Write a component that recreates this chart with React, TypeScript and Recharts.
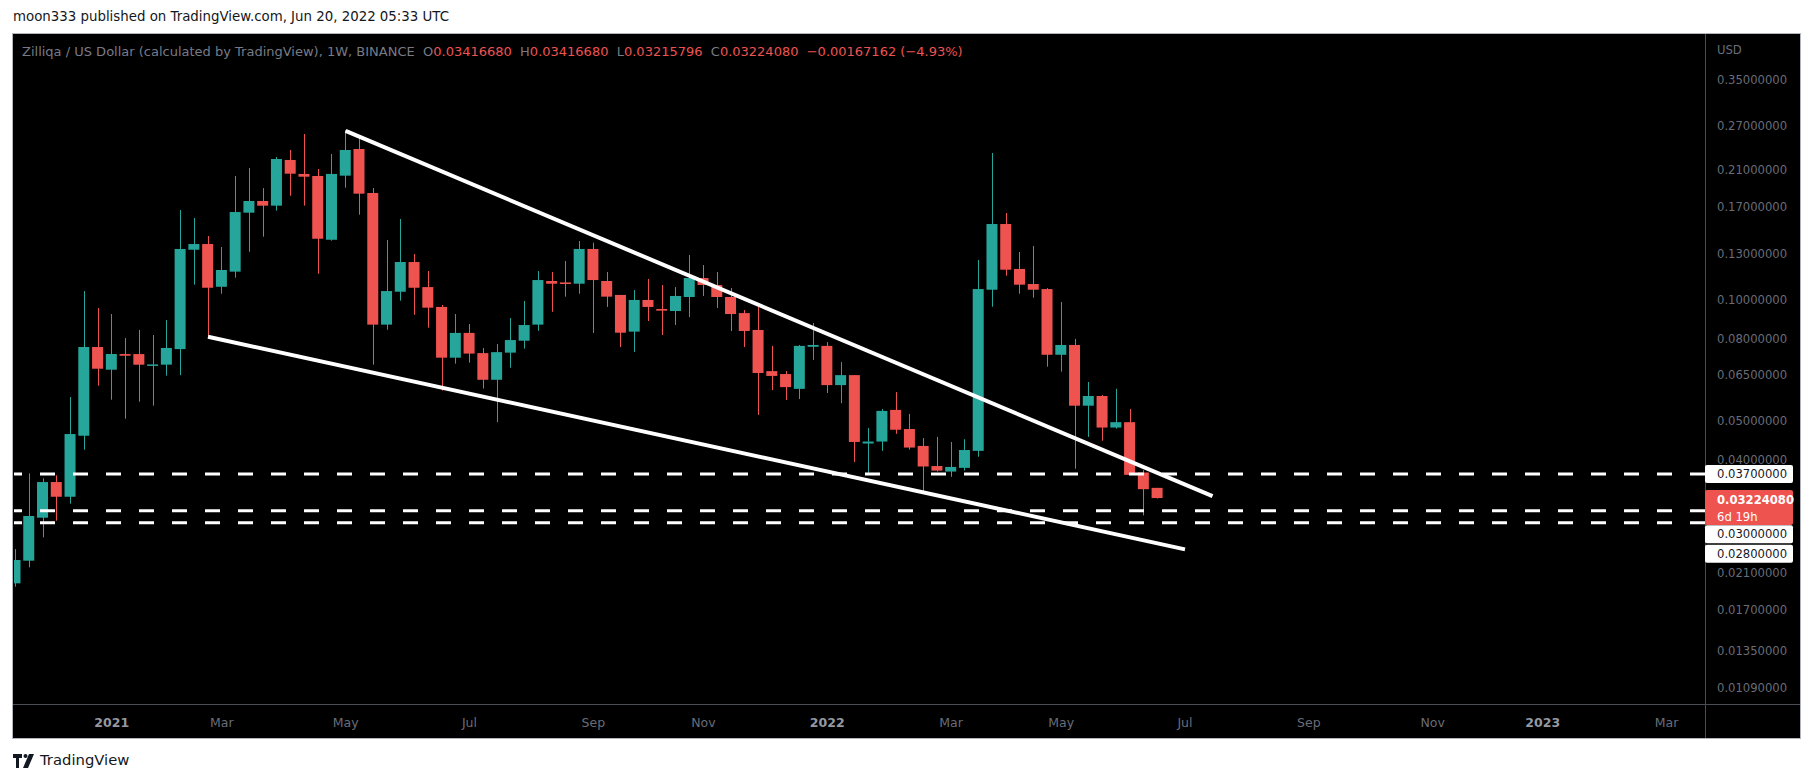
import { Bar, ComposedChart, Line, ReferenceLine, XAxis, YAxis } from "recharts"

const TEAL = "#26a69a"
const RED = "#ef5350"
const AXIS_TEXT = "#6a6d78"
const GRID_LINE = "#4a4d55"
const FONT = "DejaVu Sans, sans-serif"

// weekly candles, bar 0 = week of 2020-11-16, last bar = week of 2022-06-20
const opens = [
  0.01982, 0.02255, 0.02882, 0.03532, 0.03248, 0.046, 0.0763, 0.06704, 0.0733, 0.0733,
  0.0686, 0.069, 0.0754, 0.1329, 0.1373, 0.1076, 0.1173, 0.1642, 0.1755, 0.1709,
  0.2218, 0.2048, 0.2024, 0.1407, 0.2028, 0.2361, 0.1837, 0.0867, 0.1046, 0.1239,
  0.1074, 0.0959, 0.0718, 0.0827, 0.0737, 0.0633, 0.0739, 0.0791, 0.0867, 0.1112,
  0.1103, 0.1095, 0.1335, 0.1112, 0.1027, 0.0833, 0.0998, 0.0948, 0.0937, 0.1015,
  0.1131, 0.1087, 0.1015, 0.0926, 0.0841, 0.0665, 0.0654, 0.0601, 0.0764, 0.0768,
  0.0614, 0.065, 0.044, 0.0445, 0.0533, 0.0478, 0.0434, 0.0387, 0.0375, 0.0383,
  0.0422, 0.1058, 0.1539, 0.1191, 0.1093, 0.1062, 0.073, 0.0772, 0.0546, 0.0577,
  0.0482, 0.0497, 0.0373, 0.0341668,
]
const highs = [
  0.0241, 0.03712, 0.03608, 0.0367, 0.05737, 0.105, 0.0953, 0.0921, 0.0803, 0.0841,
  0.0817, 0.089, 0.1667, 0.1593, 0.1437, 0.135, 0.2024, 0.2119, 0.1889, 0.2256,
  0.2348, 0.2572, 0.2107, 0.2295, 0.2632, 0.2543, 0.189, 0.1405, 0.1584, 0.1297,
  0.1177, 0.097, 0.0921, 0.087, 0.0759, 0.0776, 0.09, 0.0992, 0.1177, 0.1171,
  0.1246, 0.1397, 0.1384, 0.1171, 0.1027, 0.1056, 0.1125, 0.1087, 0.1074, 0.129,
  0.1218, 0.1171, 0.1068, 0.0942, 0.0981, 0.0768, 0.0665, 0.0772, 0.0875, 0.0785,
  0.07, 0.065, 0.0481, 0.0536, 0.059, 0.0521, 0.0454, 0.0457, 0.0444, 0.0451,
  0.1254, 0.2308, 0.1639, 0.1312, 0.1358, 0.1068, 0.0986, 0.0799, 0.0625, 0.058,
  0.0601, 0.0536, 0.0378, 0.0341668,
]
const lows = [
  0.01944, 0.02171, 0.02577, 0.02833, 0.03121, 0.04247, 0.0612, 0.0565, 0.0507, 0.05585,
  0.0546, 0.0648, 0.065, 0.1089, 0.0807, 0.1034, 0.1133, 0.1314, 0.1432, 0.1661,
  0.1809, 0.1709, 0.1159, 0.1399, 0.1894, 0.1623, 0.069, 0.0842, 0.0994, 0.0917,
  0.0852, 0.0595, 0.0694, 0.0698, 0.0602, 0.0497, 0.0678, 0.0756, 0.0837, 0.0933,
  0.1017, 0.1034, 0.0827, 0.0959, 0.0763, 0.0742, 0.0885, 0.0817, 0.0865, 0.0905,
  0.1021, 0.0953, 0.0836, 0.0763, 0.0518, 0.0597, 0.0564, 0.0567, 0.0709, 0.0587,
  0.0554, 0.0396, 0.0372, 0.0422, 0.0465, 0.0425, 0.0331, 0.0375, 0.0364, 0.0377,
  0.0408, 0.096, 0.1146, 0.1034, 0.1011, 0.0682, 0.0663, 0.0381, 0.0457, 0.0447,
  0.0479, 0.0368, 0.0292, 0.03215796,
]
const closes = [
  0.02264, 0.0291, 0.03532, 0.03248, 0.04645, 0.07631, 0.06742, 0.07332, 0.0726, 0.06898,
  0.0691, 0.0759, 0.1335, 0.1373, 0.107, 0.1184, 0.1648, 0.1755, 0.1709, 0.223,
  0.2051, 0.2016, 0.1415, 0.2048, 0.2348, 0.183, 0.0867, 0.105, 0.1239, 0.107,
  0.0955, 0.0718, 0.0827, 0.0735, 0.0633, 0.0741, 0.0794, 0.0865, 0.1118, 0.1095,
  0.1093, 0.1335, 0.1118, 0.1017, 0.0828, 0.0998, 0.0959, 0.0939, 0.1021, 0.1131,
  0.1087, 0.1015, 0.0921, 0.0836, 0.0658, 0.0647, 0.0607, 0.0768, 0.0772, 0.0614,
  0.065, 0.0444, 0.0445, 0.053, 0.0476, 0.043, 0.0386, 0.0377, 0.0385, 0.0424,
  0.1062, 0.1539, 0.1186, 0.1089, 0.1058, 0.073, 0.0772, 0.0546, 0.0577, 0.0482,
  0.0497, 0.0368, 0.03391, 0.0322408,
]

// first weekly bar of each month
const monthTicks = [7, 15, 24, 33, 42, 50, 59, 68, 76, 85, 94, 103, 111, 120]
const monthLabels = ["2021", "Mar", "May", "Jul", "Sep", "Nov", "2022", "Mar", "May", "Jul", "Sep", "Nov", "2023", "Mar"]
const priceTicks = [0.35, 0.27, 0.21, 0.17, 0.13, 0.1, 0.08, 0.065, 0.05, 0.04, 0.021, 0.017, 0.0135, 0.0109]

// drawn trend lines (week index, price)
const upperWeeks = [24, 87]
const upperPrices = [0.2617, 0.0326]
const lowerWeeks = [14, 85]
const lowerPrices = [0.0809, 0.02406]

const levels = [0.037, 0.03, 0.028]
const lastPrice = 0.0322408

const candles = opens.map((open, i) => ({
  week: i,
  open,
  high: highs[i],
  low: lows[i],
  close: closes[i],
  range: [lows[i], highs[i]],
}))
const upperTrend = upperWeeks.map((week, i) => ({ week, price: upperPrices[i] }))
const lowerTrend = lowerWeeks.map((week, i) => ({ week, price: lowerPrices[i] }))

function Candle(props: any) {
  const { x, y, width, height, payload } = props
  if (!payload) return null
  const top = Math.min(y, y + height)
  const h = Math.abs(height)
  const { open, close, high, low } = payload
  const color = close >= open ? TEAL : RED
  const span = Math.log(high) - Math.log(low)
  const toY = (v: number) => (span === 0 ? top : top + ((Math.log(high) - Math.log(v)) / span) * h)
  const bodyTop = toY(Math.max(open, close))
  const bodyBottom = toY(Math.min(open, close))
  const cx = Math.round(x + width / 2) + 0.5
  return (
    <g>
      <line x1={cx} x2={cx} y1={top} y2={top + h} stroke={color} strokeWidth={1} />
      <rect x={x} y={bodyTop} width={width} height={Math.max(bodyBottom - bodyTop, 1.5)} fill={color} />
    </g>
  )
}

function PriceTick({ x, y, payload }: any) {
  return (
    <text x={x} y={y} dy="0.36em" fill={AXIS_TEXT} fontSize={11.6} fontFamily={FONT} textAnchor="start">
      {Number(payload.value).toFixed(8)}
    </text>
  )
}

function TimeTick({ x, y, payload }: any) {
  const label = monthLabels[monthTicks.indexOf(payload.value)]
  const isYear = /^\d{4}$/.test(label)
  return (
    <text
      x={x}
      y={y + 23}
      fill={isYear ? "#9598a1" : AXIS_TEXT}
      fontWeight={isYear ? "bold" : "normal"}
      fontSize={12.5}
      fontFamily={FONT}
      textAnchor="middle"
    >
      {label}
    </text>
  )
}

function LevelBox({ viewBox, text, shift = 0 }: any) {
  if (!viewBox) return null
  const x = viewBox.x + viewBox.width
  const cy = viewBox.y + shift
  return (
    <g>
      <rect x={x} y={cy - 9} width={88} height={18} rx={2} fill="#ffffff" />
      <text x={x + 12} y={cy} dy="0.36em" fill="#131722" fontSize={11.6} fontFamily={FONT}>
        {text}
      </text>
    </g>
  )
}

function LastPriceBox({ viewBox }: any) {
  if (!viewBox) return null
  const x = viewBox.x + viewBox.width
  const cy = viewBox.y
  return (
    <g>
      <rect x={x} y={cy - 8} width={88} height={35} rx={2} fill={RED} />
      <text x={x + 12} y={cy + 2} dy="0.36em" fill="#ffffff" fontSize={11.6} fontWeight="bold" fontFamily={FONT}>
        {lastPrice.toFixed(8)}
      </text>
      <text x={x + 12} y={cy + 19} dy="0.36em" fill="#ffffff" fontSize={11.6} fontFamily={FONT}>
        6d 19h
      </text>
    </g>
  )
}

function Logo() {
  return (
    <svg width={24} height={14} style={{ position: "absolute", left: 13, top: 754 }}>
      <path d="M0 0h9v4H6v10H3V4H0z" fill="#131722" />
      <circle cx={12.5} cy={2} r={2} fill="#131722" />
      <path d="M16 0h5l-6 14h-5z" fill="#131722" />
    </svg>
  )
}

const legendRed = { color: RED }

export default function App() {
  return (
    <div
      style={{
        position: "absolute",
        left: 0,
        top: 0,
        width: 1813,
        height: 783,
        background: "#ffffff",
        fontFamily: FONT,
        overflow: "hidden",
      }}
    >
      <div style={{ position: "absolute", left: 13, top: 9, fontSize: 13.35, color: "#131722", whiteSpace: "nowrap" }}>
        moon333 published on TradingView.com, Jun 20, 2022 05:33 UTC
      </div>

      <div
        style={{
          position: "absolute",
          left: 12,
          top: 33,
          width: 1787,
          height: 704,
          background: "#000000",
          border: "1px solid #b2b5be",
        }}
      />
      <div style={{ position: "absolute", left: 1705, top: 34, width: 1, height: 704, background: GRID_LINE }} />
      <div style={{ position: "absolute", left: 13, top: 704, width: 1787, height: 1, background: GRID_LINE }} />

      <ComposedChart
        width={1813}
        height={783}
        data={candles}
        margin={{ top: 34, left: 14, right: 13, bottom: 45 }}
        style={{ position: "absolute", left: 0, top: 0 }}
      >
        <XAxis
          dataKey="week"
          type="number"
          domain={[-0.1, 122.79]}
          allowDataOverflow
          ticks={monthTicks}
          tick={<TimeTick />}
          tickLine={false}
          axisLine={false}
          tickSize={0}
          tickMargin={0}
          height={34}
          interval={0}
        />
        <YAxis
          orientation="right"
          scale="log"
          domain={[0.009958, 0.455]}
          allowDataOverflow
          ticks={priceTicks}
          tick={<PriceTick />}
          tickLine={false}
          axisLine={false}
          tickSize={0}
          tickMargin={12}
          width={95}
          interval={0}
        />
        <Bar dataKey="range" barSize={11} shape={<Candle />} isAnimationActive={false} />
        <Line
          data={upperTrend}
          dataKey="price"
          type="linear"
          stroke="#ffffff"
          strokeWidth={4}
          dot={false}
          activeDot={false}
          isAnimationActive={false}
        />
        <Line
          data={lowerTrend}
          dataKey="price"
          type="linear"
          stroke="#ffffff"
          strokeWidth={4}
          dot={false}
          activeDot={false}
          isAnimationActive={false}
        />
        {levels.map((level, i) => (
          <ReferenceLine
            key={level}
            y={level}
            stroke="#ffffff"
            strokeWidth={3}
            strokeDasharray="15 18"
            label={<LevelBox text={level.toFixed(8)} shift={[0, 23.5, 31][i]} />}
          />
        ))}
        <ReferenceLine y={lastPrice} stroke="none" label={<LastPriceBox />} />
      </ComposedChart>

      <div style={{ position: "absolute", left: 1717, top: 43, fontSize: 11.6, color: AXIS_TEXT }}>USD</div>

      <div style={{ position: "absolute", left: 22, top: 44, fontSize: 13, color: "#787b86", whiteSpace: "pre" }}>
        {"Zilliqa / US Dollar (calculated by TradingView), 1W, BINANCE  O"}
        <span style={legendRed}>0.03416680</span>
        {"  H"}
        <span style={legendRed}>0.03416680</span>
        {"  L"}
        <span style={legendRed}>0.03215796</span>
        {"  C"}
        <span style={legendRed}>0.03224080</span>
        <span style={legendRed}>{"  −0.00167162 (−4.93%)"}</span>
      </div>

      <Logo />
      <div style={{ position: "absolute", left: 40, top: 751, fontSize: 14.8, color: "#131722" }}>TradingView</div>
    </div>
  )
}
